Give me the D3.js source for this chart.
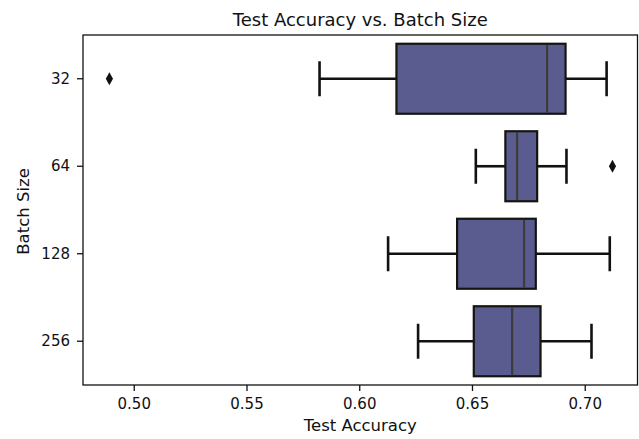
<!DOCTYPE html>
<html>
<head>
<meta charset="utf-8">
<script src="https://cdn.jsdelivr.net/npm/d3@7"></script>
<style>
  html, body { margin: 0; padding: 0; background: #fff; }
  svg { display: block; font-family: "DejaVu Sans", sans-serif; }
</style>
</head>
<body>
<svg id="chart" width="639" height="439"></svg>
<script>
// ---- data ----
const categories = ["32", "64", "128", "256"];
const whiskerLow  = [0.5824, 0.6517, 0.6128, 0.6261];
const q1          = [0.6165, 0.6648, 0.6434, 0.6508];
const median      = [0.6833, 0.6700, 0.6731, 0.6678];
const q3          = [0.6915, 0.6789, 0.6783, 0.6804];
const whiskerHigh = [0.7097, 0.6919, 0.7111, 0.7030];
const outliers    = [[0.4892], [0.7123], [], []];
const xTicks      = [0.50, 0.55, 0.60, 0.65, 0.70];
const xDomain     = [0.4775, 0.7234];

const title = "Test Accuracy vs. Batch Size";
const xLabel = "Test Accuracy";
const yLabel = "Batch Size";

// ---- layout ----
const svg = d3.select("#chart");
const mLeft = 83, mRight = 637.5, mTop = 35, mBottom = 385;
const boxColor = "#5a5c8f";

const x = d3.scaleLinear().domain(xDomain).range([mLeft, mRight]);
const y = d3.scaleBand().domain(categories).range([mTop, mBottom]).padding(0);
const bw = y.bandwidth() * 0.8;
const capW = bw * 0.5;

const rows = categories.map((c, i) => ({
  c, lo: whiskerLow[i], q1: q1[i], med: median[i], q3: q3[i], hi: whiskerHigh[i], out: outliers[i]
}));

const g = svg.append("g");

rows.forEach(r => {
  const cy = y(r.c) + y.bandwidth() / 2;
  // whiskers
  g.append("line").attr("x1", x(r.lo)).attr("x2", x(r.q1)).attr("y1", cy).attr("y2", cy)
    .attr("stroke", "#111").attr("stroke-width", 2.6);
  g.append("line").attr("x1", x(r.q3)).attr("x2", x(r.hi)).attr("y1", cy).attr("y2", cy)
    .attr("stroke", "#111").attr("stroke-width", 2.6);
  // caps
  [r.lo, r.hi].forEach(v => {
    g.append("line").attr("x1", x(v)).attr("x2", x(v)).attr("y1", cy - capW / 2).attr("y2", cy + capW / 2)
      .attr("stroke", "#111").attr("stroke-width", 2.6);
  });
  // box
  g.append("rect").attr("x", x(r.q1)).attr("y", cy - bw / 2)
    .attr("width", x(r.q3) - x(r.q1)).attr("height", bw)
    .attr("fill", boxColor).attr("stroke", "#151510").attr("stroke-width", 2.2);
  // median
  g.append("line").attr("x1", x(r.med)).attr("x2", x(r.med)).attr("y1", cy - bw / 2 + 1.1).attr("y2", cy + bw / 2 - 1.1)
    .attr("stroke", "#3c3c3c").attr("stroke-width", 2.2);
  // outliers (thin diamonds)
  r.out.forEach(v => {
    const px = x(v), hw = 3.6, hh = 6.5;
    g.append("path")
      .attr("d", `M${px},${cy - hh}L${px + hw},${cy}L${px},${cy + hh}L${px - hw},${cy}Z`)
      .attr("fill", "#111");
  });
});

// frame
svg.append("rect").attr("x", mLeft).attr("y", mTop).attr("width", mRight - mLeft).attr("height", mBottom - mTop)
  .attr("fill", "none").attr("stroke", "#111").attr("stroke-width", 1.3);

// x axis
const xAxis = svg.append("g").attr("transform", `translate(0,${mBottom})`)
  .call(d3.axisBottom(x).tickValues(xTicks).tickFormat(d3.format(".2f")).tickSize(6).tickPadding(7));
xAxis.select(".domain").remove();
xAxis.selectAll("line").attr("stroke", "#111").attr("stroke-width", 1.3);
xAxis.selectAll("text").attr("font-size", 15).attr("fill", "#111").attr("font-family", "DejaVu Sans");

// y axis
const yAxis = svg.append("g").attr("transform", `translate(${mLeft},0)`)
  .call(d3.axisLeft(y).tickSize(6).tickPadding(7));
yAxis.select(".domain").remove();
yAxis.selectAll("line").attr("stroke", "#111").attr("stroke-width", 1.3);
yAxis.selectAll("text").attr("font-size", 15).attr("fill", "#111").attr("font-family", "DejaVu Sans");

// labels
svg.append("text").attr("x", (mLeft + mRight) / 2).attr("y", 26).attr("text-anchor", "middle")
  .attr("font-size", 18).attr("fill", "#111").text(title);
svg.append("text").attr("x", (mLeft + mRight) / 2).attr("y", 431).attr("text-anchor", "middle")
  .attr("font-size", 16.5).attr("fill", "#111").text(xLabel);
svg.append("text").attr("transform", `translate(28.5,${(mTop + mBottom) / 2 + 1.5}) rotate(-90)`)
  .attr("text-anchor", "middle").attr("font-size", 16.5).attr("fill", "#111").text(yLabel);
</script>
</body>
</html>
